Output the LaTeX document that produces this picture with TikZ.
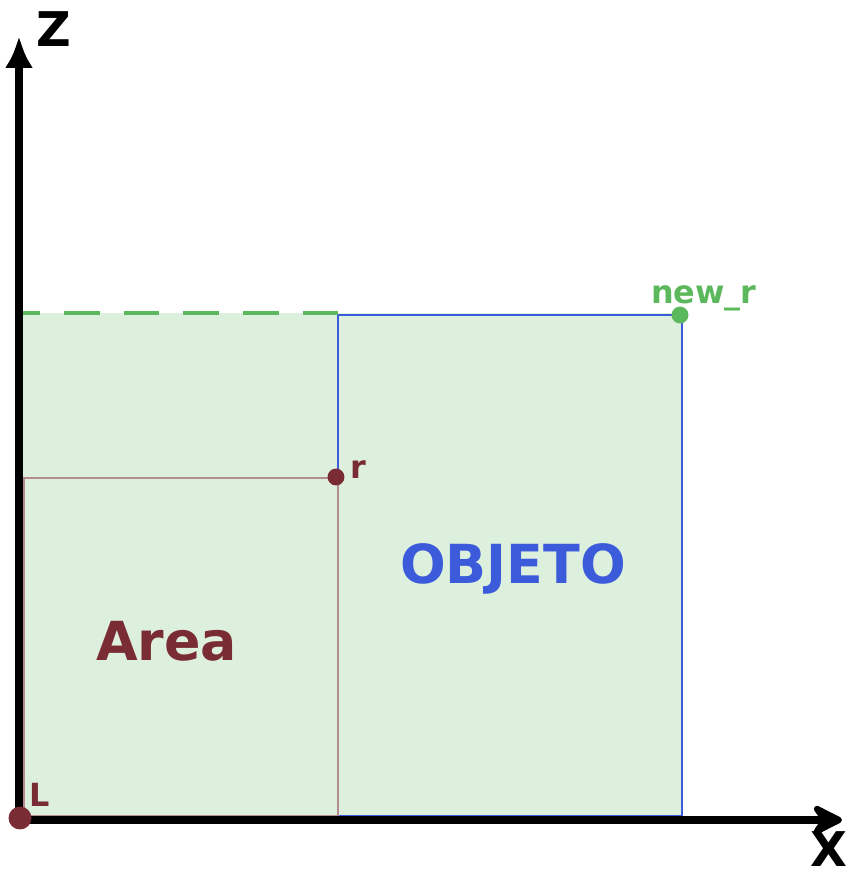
\documentclass[tikz,border=0pt]{standalone}
\usepackage{fontspec}
\setmainfont{DejaVu Sans}
\usetikzlibrary{arrows.meta, positioning}

\definecolor{areabrown}{RGB}{122,44,52}
\definecolor{objblue}{RGB}{59,91,219}
\definecolor{newgreen}{RGB}{92,184,92}
\definecolor{fillgreen}{RGB}{221,239,221}

\tikzset{
  axis/.style={line width=9pt},
  ptlabel/.style={font=\bfseries\fontsize{32}{32}\selectfont, inner sep=0pt, anchor=base west},
  biglabel/.style={font=\bfseries\fontsize{54}{54}\selectfont, inner sep=0pt, anchor=base west},
  axlabel/.style={font=\bfseries\fontsize{48}{48}\selectfont, inner sep=0pt, anchor=base west},
  dot/.style={circle, fill, inner sep=0pt, minimum size=#1}
}

\begin{document}
\begin{tikzpicture}[x=1bp, y=-1bp, >=Stealth]
  \useasboundingbox (0,0) rectangle (857,879);

  % regions
  \coordinate (tl) at (20,313);
  \coordinate (tm) at (338,313);
  \fill[fillgreen] (tl) rectangle (682,816);
  \draw[objblue, line width=1.8pt] (338,315) rectangle (682,816);
  \draw[areabrown!55, line width=2pt] (24,478) rectangle (338,816);
  \draw[newgreen, line width=3.5pt, dash pattern=on 36pt off 24pt, dash phase=16pt] (tl) -- (tm);

  % axes
  \coordinate (O) at (19,820);
  \coordinate (ztip) at (19,36);
  \coordinate (xtip) at (842,820);
  \draw[axis, -{Latex[length=32pt, width=28pt]}] (O) -- (ztip);
  \draw[axis, -{Stealth[length=38pt, width=38pt, inset=13pt, round]}] (O) -- (xtip);
  \node[axlabel] (zlbl) at (36,46) {Z};
  \node[axlabel] (xlbl) at (810,866) {X};

  % points
  \node[dot=17pt, areabrown] (r) at (336,477) {};
  \node[dot=17pt, newgreen] (newr) at (680,315) {};
  \node[dot=23pt, areabrown] (L) at (20,818) {};
  \node[ptlabel, areabrown] (rlbl) at (350,478) {r};
  \node[ptlabel, newgreen] (newrlbl) at (651,303) {new\_r};
  \node[ptlabel, areabrown] (Llbl) at (29,806) {L};

  \node[biglabel, areabrown] (area) at (96,660) {Area};
  \node[biglabel, objblue] (obj) at (400,583) {OBJETO};
\end{tikzpicture}
\end{document}
